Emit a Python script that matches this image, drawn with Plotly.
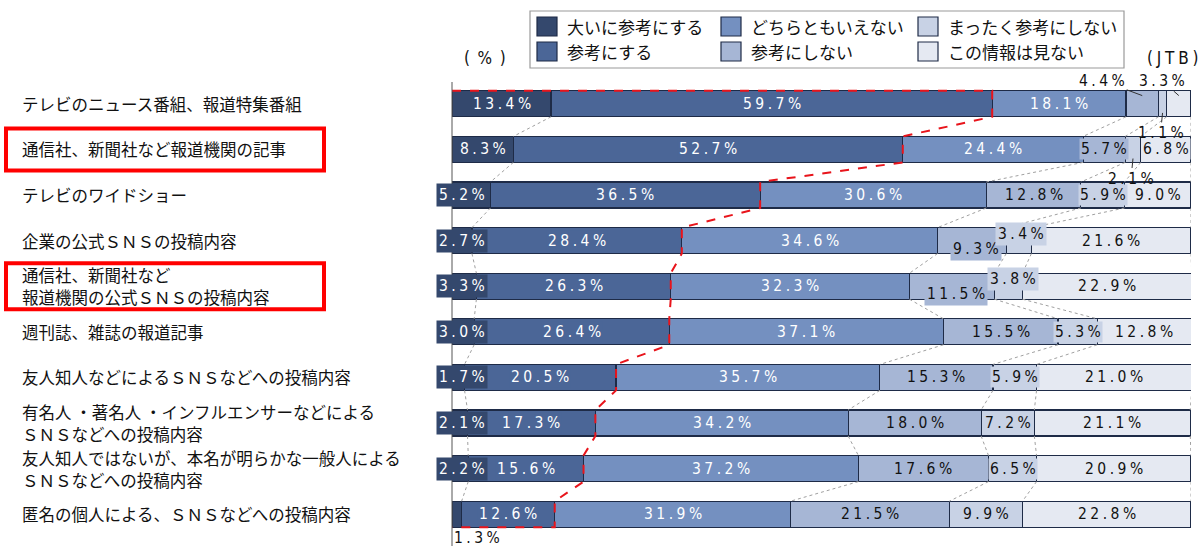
import plotly.graph_objects as go

# ---------------- data ----------------
categories = [
    "テレビのニュース番組、報道特集番組",
    "通信社、新聞社など報道機関の記事",
    "テレビのワイドショー",
    "企業の公式ＳＮＳの投稿内容",
    "通信社、新聞社など<br>報道機関の公式ＳＮＳの投稿内容",
    "週刊誌、雑誌の報道記事",
    "友人知人などによるＳＮＳなどへの投稿内容",
    "有名人 ・著名人 ・インフルエンサーなどによる<br>ＳＮＳなどへの投稿内容",
    "友人知人ではないが、本名が明らかな一般人による<br>ＳＮＳなどへの投稿内容",
    "匿名の個人による、ＳＮＳなどへの投稿内容",
]
series_names = ["大いに参考にする", "参考にする", "どちらともいえない",
                "参考にしない", "まったく参考にしない", "この情報は見ない"]
v_very    = [13.4, 8.3, 5.2, 2.7, 3.3, 3.0, 1.7, 2.1, 2.2, 1.3]
v_ref     = [59.7, 52.7, 36.5, 28.4, 26.3, 26.4, 20.5, 17.3, 15.6, 12.6]
v_neutral = [18.1, 24.4, 30.6, 34.6, 32.3, 37.1, 35.7, 34.2, 37.2, 31.9]
v_not     = [4.4, 5.7, 12.8, 9.3, 11.5, 15.5, 15.3, 18.0, 17.6, 21.5]
v_never   = [1.1, 2.1, 5.9, 3.4, 3.8, 5.3, 5.9, 7.2, 6.5, 9.9]
v_nosee   = [3.3, 6.8, 9.0, 21.6, 22.9, 12.8, 21.0, 21.1, 20.9, 22.8]
series_values = [v_very, v_ref, v_neutral, v_not, v_never, v_nosee]
highlighted_rows = [1, 4]

# ---------------- style ----------------
colors = ["#34486d", "#4b6697", "#7490c0", "#a6b6d5", "#c8d2e5", "#e5e9f2"]
text_colors = ["white", "white", "white", "#111111", "#111111", "#111111"]
BORDER = "#1e2b47"
BAR_W = 0.57
NUM_FONT = "Liberation Sans Narrow, DejaVu Sans Condensed, Arial Narrow, sans-serif"
JP_FONT = "Noto Sans CJK JP, sans-serif"
NUM_SIZE = 15.5
LINE_GAP = 22  # px between lines of two-line category labels

W, H = 1200, 553
L, R, T, B = 452, 9, 81, 16
PW, PH = W - L - R, H - T - B


def px_x(px):
    return (px - L) / PW


def px_y(py):
    return (H - B - py) / PH


def spaced(s):
    return "\u2005".join(s)


n = len(categories)
rows = list(range(n))

fig = go.Figure()

for k, (name, vals) in enumerate(zip(series_names, series_values)):
    fig.add_trace(go.Bar(
        y=rows, x=vals, name=name, orientation="h", width=BAR_W,
        marker=dict(color=colors[k], line=dict(color=BORDER, width=1.2)),
        hoverinfo="skip", showlegend=False,
    ))

# cumulative boundaries
cum = []
for i in rows:
    c, acc = [0.0], 0.0
    for vals in series_values:
        acc += vals[i]
        c.append(acc)
    cum.append(c)

half = BAR_W / 2

# gray dotted connectors
gx, gy = [], []
for k in [1, 3, 4, 5, 6]:
    for i in range(n - 1):
        gx += [cum[i][k], cum[i + 1][k], None]
        gy += [i + half, i + 1 - half, None]
fig.add_trace(go.Scatter(x=gx, y=gy, mode="lines", hoverinfo="skip", showlegend=False,
                         line=dict(color="#a0a0a0", width=1, dash="dot")))

# red dashed top-2 outline
rx, ry = [0, cum[0][2]], [-half, -half]
for i in rows:
    rx += [cum[i][2], cum[i][2]]
    ry += [i - half, i + half]
rx += [0]
ry += [n - 1 + half]
fig.add_trace(go.Scatter(x=rx, y=ry, mode="lines", hoverinfo="skip", showlegend=False,
                         line=dict(color="#e8141b", width=2, dash="dash")))

annotations = []

# special label placements (style): (row, series) -> dict
special = {
    (0, 3): dict(arrow=True, ax=-40, ay=-15, py=-0.18),
    (0, 5): dict(arrow=True, ax=-17, ay=-15, py=-0.18),
    (0, 4): dict(arrow=True, ax=-2, ay=20, py=0.2),
    (1, 4): dict(arrow=True, ax=-2, ay=20, py=0.2),
    (3, 3): dict(yshift=-8, xshift=4),
    (3, 4): dict(yshift=7, xshift=2),
    (4, 3): dict(yshift=-8, xshift=4),
    (4, 4): dict(yshift=7, xshift=5),
    (9, 0): dict(yshift=-24, xshift=20, bg=False),
}

for i in rows:
    for k, vals in enumerate(series_values):
        v = vals[i]
        label = spaced(f"{v:.1f}%")
        cx = (cum[i][k] + cum[i][k + 1]) / 2
        sp = special.get((i, k))
        font = dict(family=NUM_FONT, size=NUM_SIZE, color=text_colors[k])
        if sp and sp.get("arrow"):
            annotations.append(dict(
                x=cx, y=i + sp["py"], xref="x", yref="y", text=label,
                showarrow=True, arrowhead=0, arrowwidth=1, arrowcolor="#333333",
                ax=sp["ax"], ay=sp["ay"], standoff=0,
                font=dict(family=NUM_FONT, size=NUM_SIZE, color="#111111")))
            continue
        if sp:
            bg = colors[k] if sp.get("bg", True) else None
            col = text_colors[k] if sp.get("bg", True) else "#111111"
            a = dict(x=cx, y=i, xref="x", yref="y", text=label, showarrow=False,
                     xshift=sp.get("xshift", 0), yshift=sp.get("yshift", 0),
                     font=dict(family=NUM_FONT, size=NUM_SIZE, color=col), borderpad=2)
            if bg:
                a["bgcolor"] = bg
            annotations.append(a)
            continue
        if k == 0 and v < 6:
            annotations.append(dict(x=0, y=i, xref="x", yref="y", text=label,
                                    showarrow=False, xshift=10, bgcolor=colors[0],
                                    borderpad=2, font=font))
            continue
        annotations.append(dict(x=cx, y=i, xref="x", yref="y", text=label,
                                showarrow=False, bgcolor=colors[k], borderpad=1,
                                font=font))

# category labels (multi-line labels laid out line by line)
for i, cat in enumerate(categories):
    lines = cat.split("<br>")
    m = len(lines)
    for j, line in enumerate(lines):
        ys = ((m - 1) / 2 - j) * LINE_GAP
        annotations.append(dict(x=px_x(20), y=i, xref="paper", yref="y", text=line,
                                xanchor="left", yanchor="middle", align="left",
                                showarrow=False, yshift=ys,
                                font=dict(family=JP_FONT, size=16.5, color="#111111")))

# unit / source
annotations.append(dict(x=px_x(485), y=px_y(58), xref="paper", yref="paper",
                        text="(\u2002%\u2002)", showarrow=False, xanchor="center",
                        yanchor="middle",
                        font=dict(family=NUM_FONT, size=17, color="#111111")))
annotations.append(dict(x=px_x(1173), y=px_y(58), xref="paper", yref="paper",
                        text=spaced("(JTB)"), showarrow=False, xanchor="center",
                        yanchor="middle",
                        font=dict(family=NUM_FONT, size=17, color="#111111")))

shapes = []
# axis line
shapes.append(dict(type="line", xref="paper", yref="paper", x0=0, x1=0,
                   y0=px_y(546), y1=px_y(82), line=dict(color="#555555", width=1)))
# red highlight boxes
for r in highlighted_rows:
    cy = T + (r + 0.5) * PH / n
    extra = 23 if "<br>" in categories[r] else 21
    shapes.append(dict(type="rect", xref="paper", yref="paper",
                       x0=px_x(6), x1=px_x(324), y0=px_y(cy - extra), y1=px_y(cy + extra),
                       line=dict(color="#ff0000", width=4)))

# manual legend (3 columns x 2 rows, column-major)
shapes.append(dict(type="rect", xref="paper", yref="paper",
                   x0=px_x(530), x1=px_x(1124), y0=px_y(11), y1=px_y(68),
                   line=dict(color="#9a9a9a", width=1.2), fillcolor="white"))
col_x = [537, 721, 918]
row_y = [17, 42]
for k, name in enumerate(series_names):
    c, r = divmod(k, 2)
    x0, y0 = col_x[c], row_y[r]
    shapes.append(dict(type="rect", xref="paper", yref="paper",
                       x0=px_x(x0), x1=px_x(x0 + 20), y0=px_y(y0), y1=px_y(y0 + 19),
                       fillcolor=colors[k], line=dict(color=BORDER, width=1.2)))
    annotations.append(dict(x=px_x(x0 + 28), y=px_y(y0 + 9.5), xref="paper", yref="paper",
                            text=name, xanchor="left", yanchor="middle", showarrow=False,
                            font=dict(family=JP_FONT, size=17, color="#111111")))

fig.update_layout(
    width=W, height=H, barmode="stack", bargap=0.43,
    margin=dict(l=L, r=R, t=T, b=B),
    paper_bgcolor="white", plot_bgcolor="white",
    xaxis=dict(range=[0, 100], visible=False, fixedrange=True),
    yaxis=dict(range=[n - 0.5, -0.5], visible=False, fixedrange=True),
    annotations=annotations, shapes=shapes, showlegend=False,
)

fig.write_html("out.html")
